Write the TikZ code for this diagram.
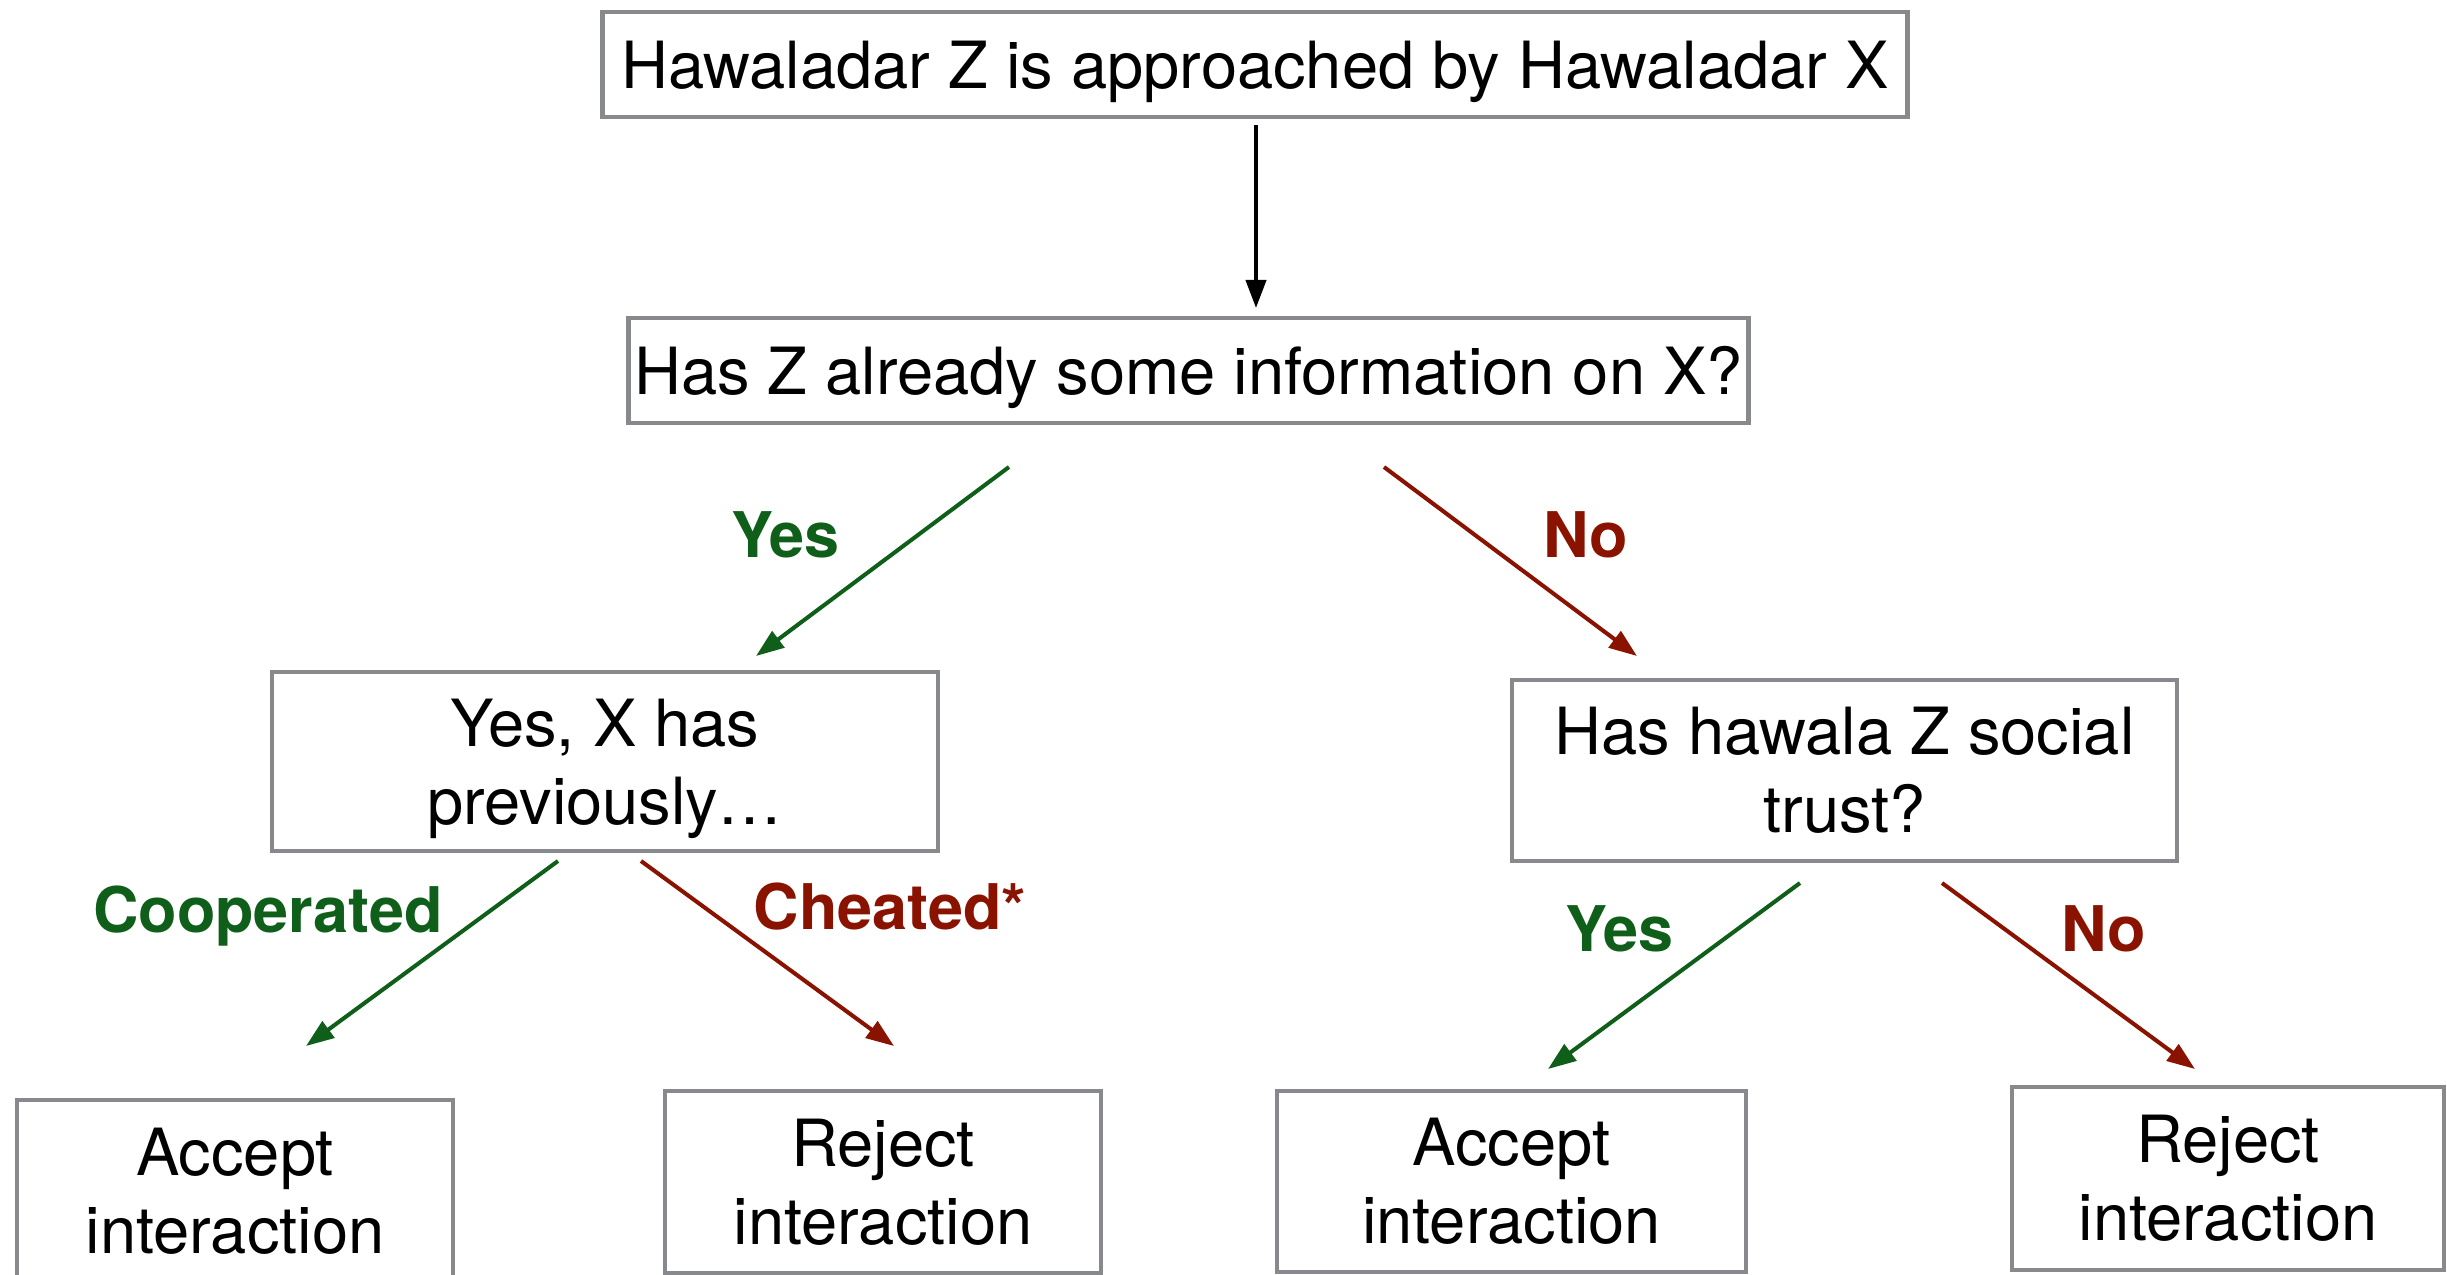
\documentclass[tikz,border=0pt]{standalone}
\usepackage{fontspec}
\setmainfont{TeX Gyre Heros}
\usetikzlibrary{arrows.meta}
\definecolor{boxgray}{HTML}{88898C}
\definecolor{yesgreen}{HTML}{0F5F1B}
\definecolor{nored}{HTML}{8A1300}
\begin{document}
\begin{tikzpicture}[x=0.01cm,y=-0.01cm,
  box/.style={draw=boxgray,line width=1.3pt,fill=white,inner sep=0pt,align=center,
    font=\fontsize{18.5}{22.2}\selectfont},
  lbl/.style={font=\fontsize{17.9}{21}\selectfont\bfseries,anchor=base,inner sep=0pt},
  conn/.style={line width=1.15pt,-{Triangle[length=0.28cm,width=0.2cm]}},
]
\useasboundingbox (0,0) rectangle (2447,1275);
\fill[white] (0,0) rectangle (2447,1275);

% boxes
\node[box,text depth=0pt,minimum width=13.04cm,minimum height=1.05cm] (top) at (1255,64.5) {Hawaladar Z is approached by Hawaladar X};
\node[box,text depth=0pt,minimum width=11.19cm,minimum height=1.05cm] (info) at (1188.5,370.5) {Has Z already some information on X?};
\node[box,text depth=0pt,minimum width=6.66cm,minimum height=1.79cm] (prev) at (605,761.5) {Yes, X has\\previously\ldots};
\node[box,minimum width=6.65cm,minimum height=1.81cm] (trust) at (1844.5,770.5) {Has hawala Z social\\trust?};
\node[box,minimum width=4.36cm,minimum height=1.82cm] (acc1) at (235,1191) {Accept\\interaction};
\node[box,minimum width=4.36cm,minimum height=1.82cm] (rej1) at (883,1182) {Reject\\interaction};
\node[box,minimum width=4.69cm,minimum height=1.81cm] (acc2) at (1511.5,1181.5) {Accept\\interaction};
\node[box,minimum width=4.32cm,minimum height=1.83cm] (rej2) at (2228,1178.5) {Reject\\interaction};

% connector end points
\coordinate (a0s) at (1256,125);  \coordinate (a0e) at (1256,308);
\coordinate (a1s) at (1009,467);  \coordinate (a1e) at (756,656);
\coordinate (a2s) at (1384,467);  \coordinate (a2e) at (1637,656);
\coordinate (a3s) at (558,861);   \coordinate (a3e) at (306,1046);
\coordinate (a4s) at (641,861);   \coordinate (a4e) at (894,1046);
\coordinate (a5s) at (1800,883);  \coordinate (a5e) at (1548,1069);
\coordinate (a6s) at (1942,883);  \coordinate (a6e) at (2195,1069);

% connectors
\draw[conn,black] (a0s) -- (a0e);
\draw[conn,yesgreen] (a1s) -- (a1e);
\draw[conn,nored] (a2s) -- (a2e);
\draw[conn,yesgreen] (a3s) -- (a3e);
\draw[conn,nored] (a4s) -- (a4e);
\draw[conn,yesgreen] (a5s) -- (a5e);
\draw[conn,nored] (a6s) -- (a6e);

% labels
\node[lbl,text=yesgreen] (l1) at (785,557) {Yes};
\node[lbl,text=nored] (l2) at (1586,557) {No};
\node[lbl,text=yesgreen] (l3) at (268,932) {Cooperated};
\node[lbl,text=nored] (l4) at (890,929) {Cheated*};
\node[lbl,text=yesgreen] (l5) at (1619,951) {Yes};
\node[lbl,text=nored] (l6) at (2104,951) {No};
\end{tikzpicture}
\end{document}
